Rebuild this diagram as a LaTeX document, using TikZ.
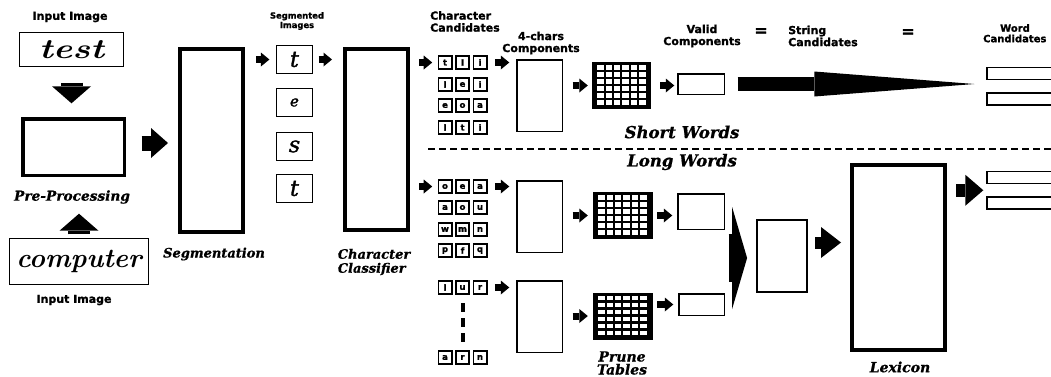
\documentclass[tikz,border=0pt]{standalone}
\usepackage{fontspec}
\usepackage{graphicx}
\usetikzlibrary{arrows.meta,calc}
\newfontfamily\sansb{DejaVu Sans}[BoldFeatures={FakeBold=1.2}]
\newfontfamily\serifbi{DejaVu Serif}[BoldItalicFeatures={FakeBold=0.8}]
\newfontfamily\handb{DejaVu Serif}[ItalicFeatures={FakeBold=1.5}]
\tikzset{
  lbl/.style={font=\sansb\bfseries\fontsize{11}{12}\selectfont, inner sep=0, align=center},
  lblsm/.style={font=\sansb\bfseries\fontsize{8.4}{9.5}\selectfont, inner sep=0, align=center},
  captxt/.style={font=\serifbi\bfseries\itshape\fontsize{13}{14}\selectfont, inner sep=0, align=center},
  pbox/.style={draw, line width=1.4pt, inner sep=0},
  hbox/.style={draw, line width=4pt, inner sep=0},
  ccell/.style={draw, line width=1.8pt, inner sep=0, minimum size=13.2pt,
                font=\sansb\bfseries\fontsize{8.5}{9}\selectfont},
  gridbox/.style={fill=black, inner sep=0, minimum width=59pt, minimum height=47pt},
  wbox/.style={draw, line width=1.5pt, inner sep=0, minimum width=78.5pt, minimum height=12pt, anchor=west},
  sarr/.style={line width=7pt, -{Triangle[length=8.5pt,width=14pt,line width=0pt]}},
  marr/.style={line width=13pt, -{Triangle[length=18pt,width=31pt,line width=0pt]}},
  varr/.style={line width=22pt, -{Triangle[length=17pt,width=39pt,line width=0pt]}},
  segbox/.style={draw, line width=1.3pt, inner sep=0, minimum width=35.7pt, minimum height=27.7pt},
}
\begin{document}
\begin{tikzpicture}[x=1pt,y=-1pt]
\useasboundingbox[fill=white] (0,0) rectangle (1051,376);

% ---------- pre-processing ----------
\node[lbl] (lin1) at (70,17) {Input Image};
\node[pbox, line width=1.3pt, minimum width=103.7pt, minimum height=33.7pt] (test) at (71.5,49.5)
  {\scalebox{1.3}[1]{\fontsize{28}{28}\selectfont\bfseries\itshape test}};
\node[draw, line width=3.5pt, inner sep=0, minimum width=101.5pt, minimum height=56.5pt] (pre) at (73.5,147) {};
\node[captxt, font=\serifbi\bfseries\itshape\fontsize{13.7}{14}\selectfont] (lpre) at (72,197) {Pre-Processing};
\node[pbox, line width=1.3pt, minimum width=138.7pt, minimum height=45.7pt] (comp) at (79,261.5)
  {\fontsize{27}{27}\selectfont\bfseries\itshape computer};
\node[lbl] (lin2) at (74,300) {Input Image};

% ---------- segmentation ----------
\node[hbox, minimum width=63pt, minimum height=183pt] (seg) at (211.5,140.5) {};
\node[captxt] (lseg) at (214,254) {Segmentation};

\node[lblsm] (lsi) at (297,21) {Segmented\\Images};
\node[segbox] (s1) at (294.5,59.5) {\handb\fontsize{22}{22}\selectfont\itshape t};
\node[segbox] (s2) at (294.5,102.5) {\handb\fontsize{15}{15}\selectfont\itshape e};
\node[segbox] (s3) at (294.5,146.5) {\handb\fontsize{22}{22}\selectfont\itshape s};
\node[segbox] (s4) at (294.5,188.5) {\handb\fontsize{22}{22}\selectfont\itshape t};

% ---------- classifier ----------
\node[hbox, minimum width=63pt, minimum height=181pt] (cls) at (376.5,139.5) {};
\node[captxt, align=left] (lcls) at (374,262) {Character\\Classifier};

% ---------- character candidates ----------
\node[lbl, align=left, anchor=west] (lcc) at (430,21.5) {Character\\Candidates};
\foreach \r/\yy/\a/\b/\c in {1/62.5/t/l/i, 2/84.5/l/e/i, 3/105.5/e/o/a, 4/127.5/l/t/i}{
  \node[ccell] (t\r1) at (445,\yy) {\a};
  \node[ccell] (t\r2) at (462.5,\yy) {\b};
  \node[ccell] (t\r3) at (480,\yy) {\c};
}
\foreach \r/\yy/\a/\b/\c in {1/186.5/o/e/a, 2/207.5/a/o/u, 3/229.5/w/m/n, 4/250.5/p/f/q, 5/287.5/l/u/r, 6/357.5/a/r/n}{
  \node[ccell] (b\r1) at (445,\yy) {\a};
  \node[ccell] (b\r2) at (462.5,\yy) {\b};
  \node[ccell] (b\r3) at (480,\yy) {\c};
}
\draw[line width=4pt, dash pattern=on 9pt off 6pt] ($(b52.south)+(0,8)$) -- ($(b62.north)+(0,-8)$);

% ---------- 4-chars components ----------
\node[lbl] (l4c) at (541,43) {4-chars\\Components};
\node[pbox, line width=1.5pt, minimum width=45.5pt, minimum height=71.5pt] (fc1) at (539.5,95.5) {};
\node[pbox, line width=1.5pt, minimum width=45.5pt, minimum height=71.5pt] (fc2) at (539.5,216.5) {};
\node[pbox, line width=1.5pt, minimum width=45.5pt, minimum height=71.5pt] (fc3) at (539.5,316.5) {};

% ---------- prune tables ----------
\node[gridbox] (g1) at (621.5,85.5) {};
\node[gridbox, minimum width=60pt] (g2) at (623,215.5) {};
\node[gridbox, minimum width=60pt] (g3) at (623,316) {};
\foreach \g in {g1,g2,g3}{
  \foreach \i in {0,...,5}{
    \foreach \j in {0,...,5}{
      \fill[white] ($(\g.north west)+(5.3+\i*8.4,3.6+\j*7)$) rectangle ++(6.4,4.2);
    }
  }
}
\node[captxt, font=\serifbi\bfseries\itshape\fontsize{14}{13}\selectfont] (lprune) at (622,363) {Prune\\Tables};

% ---------- valid components ----------
\node[lbl] (lvc) at (702,36) {Valid\\Components};
\node[pbox, line width=1.5pt, minimum width=46.5pt, minimum height=20.5pt] (v1) at (701,84) {};
\node[pbox, line width=1.5pt, minimum width=46.5pt, minimum height=35.5pt] (v2) at (701,211.5) {};
\node[pbox, line width=1.5pt, minimum width=45.5pt, minimum height=21.5pt] (v3) at (701.5,304.5) {};

\node[lbl, font=\sansb\bfseries\fontsize{16}{16}\selectfont] (eq1) at (761,32) {=};
\node[lbl, align=left, anchor=west] (lsc) at (788,36) {String\\Candidates};
\node[lbl, font=\sansb\bfseries\fontsize{16}{16}\selectfont] (eq2) at (908,33) {=};
\node[lbl, font=\sansb\bfseries\fontsize{10}{11}\selectfont] (lw1) at (1015,28) {Word};
\node[lbl, font=\sansb\bfseries\fontsize{10}{11}\selectfont, anchor=west] (lw2) at (983,38.5) {Candidates};

% ---------- short / long words ----------
\node[captxt, font=\serifbi\bfseries\itshape\fontsize{16.5}{17}\selectfont] (lshort) at (682,132) {Short Words};
\draw[line width=2.8pt, dash pattern=on 7pt off 4pt] (428,149) -- (1051,149);
\node[captxt, font=\serifbi\bfseries\itshape\fontsize{16.5}{17}\selectfont] (llong) at (682,162) {Long Words};

% ---------- long words tail ----------
\node[pbox, line width=1.8pt, minimum width=50.2pt, minimum height=72.2pt] (mb) at (782,256) {};
\node[hbox, minimum width=93pt, minimum height=185pt] (lex) at (898.5,257.5) {};
\node[captxt, font=\serifbi\bfseries\itshape\fontsize{14}{14}\selectfont] (llex) at (900,367) {Lexicon};

\node[wbox] (w1) at (986,73.5) {};
\node[wbox] (w2) at (986,99) {};
\node[wbox] (w3) at (986,177.5) {};
\node[wbox] (w4) at (986,203) {};

% ---------- connectors ----------
\draw[varr, shorten <=15.6pt, shorten >=13.7pt] (test.south) -- (test.south |- pre.north);
\draw[varr, shorten <=3.6pt, shorten >=36.7pt] (comp.north) -- (comp.north |- pre.south);
\draw[marr, line width=15pt, -{Triangle[length=17pt,width=30pt,line width=0pt]}, shorten <=15.7pt, shorten >=10pt]
  ([yshift=4pt]pre.east) -- ([yshift=4pt]pre.east -| seg.west);
\draw[sarr, shorten <=11pt, shorten >=6.6pt] (seg.east |- s1.west) -- (s1.west);
\draw[sarr, shorten <=5.6pt, shorten >=11pt] (s1.east) -- (s1.east -| cls.west);
\draw[sarr, shorten <=9pt, shorten >=5.3pt] (cls.east |- t11.west) -- (t11.west);
\draw[sarr, shorten <=7.3pt, shorten >=6.7pt] (t13.east) -- (t13.east -| fc1.west);
\draw[sarr, shorten <=9.7pt, shorten >=4pt] (fc1.east |- g1.west) -- (g1.west);
\draw[sarr, shorten <=9pt, shorten >=2.7pt] (g1.east) -- (g1.east -| v1.west);
\draw[sarr, shorten <=9pt, shorten >=5.3pt] (cls.east |- b11.west) -- (b11.west);
\draw[sarr, shorten <=7.3pt, shorten >=6.7pt] (b13.east) -- (b13.east -| fc2.west);
\draw[sarr, shorten <=9.7pt, shorten >=5pt] (fc2.east |- g2.west) -- (g2.west);
\draw[sarr, shorten <=4pt, shorten >=4.7pt] (g2.east) -- (g2.east -| v2.west);
\draw[sarr, shorten <=7.3pt, shorten >=6.7pt] (b53.east) -- (b53.east -| fc3.west);
\draw[sarr, shorten <=9.7pt, shorten >=5pt] (fc3.east |- g3.west) -- (g3.west);
\draw[sarr, shorten <=4pt, shorten >=4.7pt] (g3.east |- v3.west) -- (v3.west);

% short words: tapered arrow to word candidates
\draw[line width=14pt, -{Triangle[length=160pt,width=25pt,line width=0pt]}, shorten <=12.7pt, shorten >=11.7pt]
  (v1.east) -- (v1.east -| w1.west);

% long words: merge arrow
\coordinate (vmid) at ($(v2.east)!0.5!(v3.east)$);
\draw[line width=48pt, -{Triangle[length=15pt,width=102pt,line width=0pt]}, shorten <=3.5pt, shorten >=8.9pt]
  (vmid) -- (vmid -| mb.west);

\coordinate (m1) at ([yshift=13.5pt]mb.east);
\draw[marr, line width=12pt, -{Triangle[length=20pt,width=31pt,line width=0pt]}, shorten <=7pt, shorten >=9pt]
  (m1) -- (m1 -| lex.west);
\coordinate (wmid) at ($(w3.west)!0.5!(w4.west)$);
\draw[marr, shorten <=9pt, shorten >=2.7pt] (lex.east |- wmid) -- (wmid);
\end{tikzpicture}
\end{document}
